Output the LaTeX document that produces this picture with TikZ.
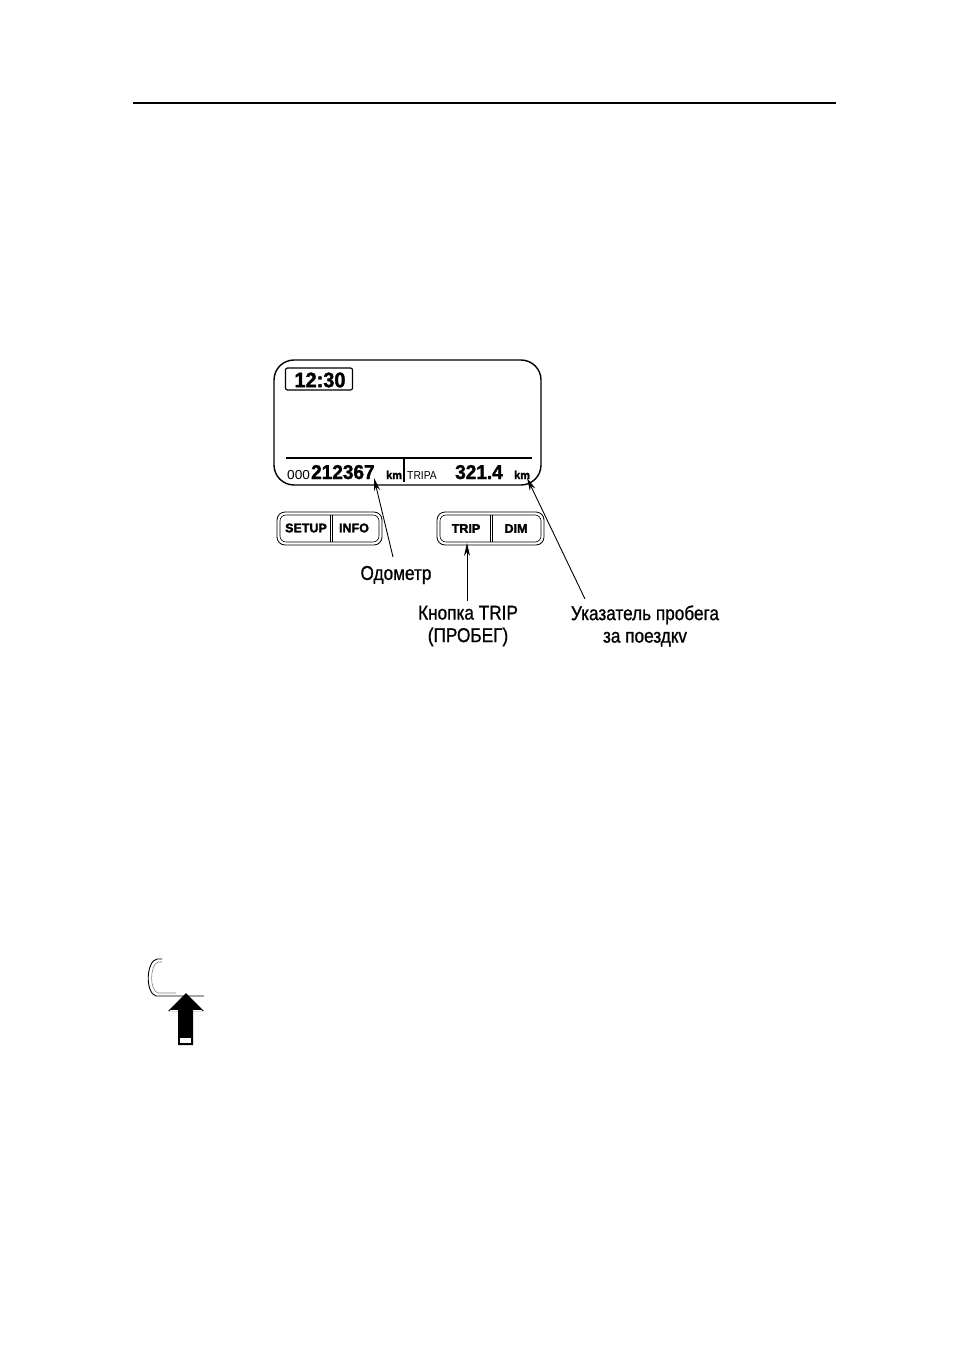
\documentclass[tikz,border=0pt]{standalone}
\usepackage{fontspec}
\setmainfont{Liberation Sans}
\newfontfamily\narrowf{Liberation Sans}[FakeStretch=0.86, FakeBold=0.9]
\newfontfamily\heavyf{Liberation Sans}[FakeBold=2.2]
\newfontfamily\dispf{Liberation Sans}[FakeBold=1.6, FakeStretch=0.95]
\usetikzlibrary{arrows.meta}
\begin{document}
\begin{tikzpicture}[x=1pt,y=-1pt,
  lbl/.style={font=\narrowf\fontsize{20}{22.5}\selectfont, align=center, inner sep=1pt},
  ptr/.style={line width=0.9pt, -{Stealth[length=13pt,width=6pt]}},
  btntxt/.style={font=\heavyf\bfseries\fontsize{12.5}{14}\selectfont, inner sep=0pt},
  frame/.style={line width=0.8pt, rounded corners=8pt},
  digits/.style={font=\dispf\bfseries\fontsize{20}{22}\selectfont, inner sep=0pt, anchor=base west},
  small/.style={font=\dispf\bfseries\fontsize{11.5}{12}\selectfont, inner sep=0pt, anchor=base west}
]
\useasboundingbox (0,0) rectangle (954,1351);
% top rule
\draw[line width=1.6pt] (133,103) -- (836,103);

% display
\draw[line width=1.4pt, rounded corners=20pt] (274,360) rectangle (541,485);
\node[draw, line width=1.2pt, rounded corners=2pt, minimum width=67pt, minimum height=22pt, inner sep=0pt] (clockbox) at (319,379) {};
\node[font=\dispf\bfseries\fontsize{21}{24}\selectfont, inner sep=0pt] (clock) at (320,380) {12:30};
\draw[line width=1.6pt] (286,458) -- (532,458);
\draw[line width=1.4pt] (404,458) -- (404,482);
\node[font=\fontsize{13}{14}\selectfont, inner sep=0pt, anchor=base west, xscale=1.05] (zeros) at (287,479) {000};
\node[digits] (odo) at (311,479) {212367};
\node[small] (km1) at (386,479) {km};
\node[font=\fontsize{11.5}{12}\selectfont, inner sep=0pt, anchor=base west, xscale=0.9] (tripa) at (407,479) {TRIPA};
\node[digits] (trip) at (455,479) {321.4};
\node[small] (km2) at (514,479) {km};
\coordinate (odotip) at (374,478);
\coordinate (triptip) at (527,478);

% buttons left
\draw[frame] (277,512) rectangle (382,545);
\draw[line width=0.6pt, rounded corners=6pt] (280,515) rectangle (379,542);
\draw[line width=0.6pt] (330,515) -- (330,542);
\draw[line width=0.6pt] (332,515) -- (332,542);
\node[btntxt] (setup) at (306,528) {SETUP};
\node[btntxt] (info) at (354,528) {INFO};

% buttons right
\draw[frame] (437,512) rectangle (544,545);
\draw[line width=0.6pt, rounded corners=6pt] (440,515) rectangle (541,542);
\draw[line width=0.6pt] (490,515) -- (490,542);
\draw[line width=0.6pt] (492,515) -- (492,542);
\node[btntxt] (tripbtn) at (466,528.5) {TRIP};
\node[btntxt] (dim) at (516,528.5) {DIM};
\coordinate (tripbtntip) at (467,543);

% labels
\node[lbl] (lodo) at (396,575) {Одометр};
\node[lbl] (ltrip) at (468,626) {Кнопка TRIP\\(ПРОБЕГ)};
\node[lbl] (lind) at (645,626) {Указатель пробега\\за поездкv};

\draw[ptr] (393,557) -- (odotip);
\draw[ptr] (467,601) -- (tripbtntip);
\draw[ptr] (585,599) -- (triptip);

% bottom-left icon
\draw[line width=0.9pt] (162,959) -- (157,959) .. controls (146,961) and (145,993) .. (156,996) -- (204,996);
\draw[line width=0.6pt, gray] (162,962) -- (158,962) .. controls (150,965) and (149,990) .. (158,993) -- (176,993);
\fill[black] (186,993) -- (204,1011) -- (193,1011) -- (193,1045) -- (178,1045) -- (178,1011) -- (168,1011) -- cycle;
\draw[white, line width=0.8pt] (170,1010) -- (178,1010);
\draw[white, line width=0.8pt] (193,1010) -- (202,1010);
\fill[white] (180,1038) rectangle (191,1043);
\end{tikzpicture}
\end{document}
